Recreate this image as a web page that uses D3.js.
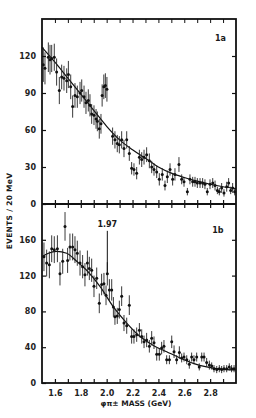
<!DOCTYPE html>
<html><head><meta charset="utf-8">
<script src="https://cdn.jsdelivr.net/npm/d3@7"></script>
<style>html,body{margin:0;padding:0;background:#fff}svg{display:block}text{font-family:"DejaVu Sans",sans-serif;fill:#1a1a1a}</style>
</head><body>
<script>
// ---- data ----
const xTickValues = [1.6,1.8,2.0,2.2,2.4,2.6,2.8];
const xTickLabels = ["1.6","1.8","2.0","2.2","2.4","2.6","2.8"];
const yTicksA = [0,30,60,90,120];
const yTicksB = [0,40,80,120,160];

const massA = [1.510,1.523,1.549,1.562,1.575,1.595,1.613,1.634,1.652,1.670,1.691,1.704,1.722,1.737,1.755,1.773,1.794,1.807,1.825,1.840,1.858,1.871,1.884,1.902,1.918,1.928,1.943,1.956,1.965,1.978,1.990,2.002,2.046,2.064,2.082,2.098,2.116,2.134,2.155,2.175,2.193,2.211,2.232,2.253,2.271,2.289,2.309,2.330,2.348,2.366,2.387,2.407,2.430,2.451,2.469,2.490,2.510,2.528,2.559,2.580,2.598,2.624,2.644,2.665,2.683,2.701,2.722,2.742,2.760,2.778,2.799,2.820,2.838,2.856,2.871,2.889,2.907,2.928,2.943,2.959,2.974,2.990];
const countA = [113,110,119,117,118,119,107,92,103,102,100,105,95,79,88,87,90,92,87,82,84,80,73,72,69,67,61,65,88,95,96,93,55,52,49,48,52,45,52,41,29,28,25,38,36,38,40,35,30,28,26,20,24,15,22,28,20,24,32,20,18,10,20,18,18,17,17,17,16,10,16,17,15,11,10,13,9,14,17,11,13,10];
const errA = [14,13,12,12,11,11,11,11,10,10,10,11,10,9,10,9,9,9,9,9,9,9,8,8,8,8,8,8,9,10,10,10,7,7,7,7,7,7,7,6,5,5,5,6,6,6,6,6,5,5,5,5,5,4,5,5,5,5,6,4,4,3,4,4,4,4,4,4,4,3,4,4,4,3,3,4,3,4,4,3,4,3];

const massB = [1.515,1.536,1.557,1.575,1.595,1.619,1.639,1.660,1.678,1.698,1.716,1.737,1.755,1.773,1.794,1.814,1.832,1.851,1.866,1.884,1.902,1.923,1.943,1.961,1.979,1.995,2.005,2.021,2.039,2.052,2.064,2.082,2.098,2.116,2.134,2.155,2.175,2.193,2.211,2.232,2.253,2.271,2.289,2.309,2.330,2.348,2.366,2.387,2.407,2.425,2.443,2.464,2.485,2.503,2.521,2.541,2.562,2.580,2.598,2.619,2.639,2.657,2.675,2.696,2.716,2.735,2.753,2.773,2.794,2.812,2.830,2.851,2.871,2.889,2.907,2.928,2.948,2.966,2.985];
const countB = [141,134,132,150,149,150,122,136,175,137,152,152,149,145,134,130,121,134,128,126,108,117,89,110,111,98,122,104,104,85,74,75,82,97,67,64,87,52,52,54,59,52,46,48,41,50,45,32,32,39,41,26,26,46,35,26,34,28,29,26,21,29,26,29,18,29,29,23,20,19,16,15,16,15,16,16,18,16,16];
const errB = [16,15,15,15,15,15,13,14,16,14,15,15,15,14,14,13,13,14,13,13,12,12,11,12,12,11,13,12,12,11,9,9,10,11,9,9,11,8,8,8,8,8,7,8,7,8,7,7,7,7,7,5,5,7,7,5,7,5,5,5,5,5,5,5,4,5,5,5,5,4,4,4,4,4,4,4,4,4,4];

const fitMassA = [1.5,1.6,1.7,1.8,1.9,2.0,2.1,2.2,2.3,2.4,2.5,2.6,2.7,2.8,2.9,3.0];
const fitA     = [127,115,102,89,76,63,52,44,37,30,25,21.5,18.5,16,14,12.5];
const fitMassB = [1.5,1.55,1.613,1.691,1.768,1.845,1.948,2.052,2.155,2.258,2.361,2.464,2.567,2.670,2.773,2.876,3.0];
const fitB     = [141,145,147,145,136,126,108,85,67,52,42,35,28,22,18,15.6,14.5];

const annotMass = 2.005, annotCount = 122, annotLabel = "1.97";

// ---- layout ----
const W = 256, H = 418;
const L = 42, R = 236, TA = 19, MID = 204, BB = 383;
const svg = d3.select("body").append("svg").attr("width", W).attr("height", H);
svg.append("rect").attr("width", W).attr("height", H).attr("fill", "#fff");

const x = d3.scaleLinear().domain([1.5, 3.0]).range([L, R]);
const yA = d3.scaleLinear().domain([0, 150]).range([MID, TA]);
const yB = d3.scaleLinear().domain([0, 200]).range([BB, MID]);
const minorX = d3.range(1.6, 2.95, 0.1);

function panel(y, yTicks, mass, count, err, fm, fv) {
  const g = svg.append("g");
  // fit curve
  const line = d3.line().x((d,i)=>x(fm[i])).y(d=>y(d)).curve(d3.curveMonotoneX);
  g.append("path").datum(fv).attr("d", line).attr("fill","none").attr("stroke","#111").attr("stroke-width",1.2);
  // error bars
  g.selectAll("line.err").data(mass).enter().append("line")
    .attr("x1", d=>x(d)).attr("x2", d=>x(d))
    .attr("y1", (d,i)=>y(Math.min(y.domain()[1], count[i]+err[i])))
    .attr("y2", (d,i)=>y(Math.max(0, count[i]-err[i])))
    .attr("stroke","#222").attr("stroke-width",0.9);
  g.selectAll("circle").data(mass).enter().append("circle")
    .attr("cx", d=>x(d)).attr("cy",(d,i)=>y(count[i])).attr("r",1.5).attr("fill","#111");
  // left axis
  const ax = d3.axisLeft(y).tickValues(yTicks).tickSize(-4).tickPadding(6).tickFormat(d=> d===0 ? "0" : d3.format("d")(d));
  const ga = svg.append("g").attr("transform",`translate(${L},0)`).call(ax);
  ga.select(".domain").remove();
  ga.selectAll("line").attr("stroke","#111").attr("stroke-width",1.2);
  ga.selectAll("text").attr("font-size",8).attr("font-weight","bold").style("fill","#222");
  // right axis ticks
  const ar = d3.axisRight(y).tickValues(yTicks.filter(v=>v>0)).tickSize(-4).tickFormat("");
  const gr = svg.append("g").attr("transform",`translate(${R},0)`).call(ar);
  gr.select(".domain").remove();
  gr.selectAll("line").attr("stroke","#111").attr("stroke-width",1.2);
}

panel(yA, yTicksA, massA, countA, errA, fitMassA, fitA);
panel(yB, yTicksB, massB, countB, errB, fitMassB, fitB);

// x tick marks (top inward, middle crossing, bottom inward)
const gt = svg.append("g").attr("transform",`translate(0,${TA})`).call(d3.axisBottom(x).tickValues(minorX).tickSize(4).tickFormat(""));
gt.select(".domain").remove(); gt.selectAll("line").attr("stroke","#111").attr("stroke-width",1);
const gm = svg.append("g").attr("transform",`translate(0,${MID-4})`).call(d3.axisBottom(x).tickValues(minorX).tickSize(8).tickFormat(""));
gm.select(".domain").remove(); gm.selectAll("line").attr("stroke","#111").attr("stroke-width",1.2);
const gb = svg.append("g").attr("transform",`translate(0,${BB})`).call(d3.axisTop(x).tickValues(minorX).tickSize(4).tickFormat(""));
gb.select(".domain").remove(); gb.selectAll("line").attr("stroke","#111").attr("stroke-width",1.2);
// x labels
const gl = svg.append("g").attr("transform",`translate(0,${BB})`).call(d3.axisBottom(x).tickValues(xTickValues).tickSize(0).tickPadding(7).tickFormat((d,i)=>xTickLabels[i]));
gl.select(".domain").remove();
gl.selectAll("text").attr("font-size",8).attr("font-weight","bold").style("fill","#222");

// frames
svg.append("rect").attr("x",L).attr("y",TA).attr("width",R-L).attr("height",BB-TA).attr("fill","none").attr("stroke","#111").attr("stroke-width",1.8);
svg.append("line").attr("x1",L).attr("x2",R).attr("y1",MID).attr("y2",MID).attr("stroke","#111").attr("stroke-width",2.2);

// panel labels
svg.append("text").attr("x",x(2.88)).attr("y",yA(132)).attr("text-anchor","middle").attr("font-size",8).attr("font-weight","bold").text("1a");
svg.append("text").attr("x",x(2.86)).attr("y",yB(168)).attr("text-anchor","middle").attr("font-size",8).attr("font-weight","bold").text("1b");

// annotation
svg.append("line").attr("x1",x(annotMass)).attr("x2",x(annotMass)).attr("y1",yB(170)).attr("y2",yB(annotCount))
  .attr("stroke","#111").attr("stroke-width",1);
svg.append("text").attr("x",x(annotMass)).attr("y",yB(174)).attr("text-anchor","middle").attr("font-size",8).attr("font-weight","bold").text(annotLabel);

// axis titles
svg.append("text").attr("transform",`translate(12,${(TA+BB)/2+10}) rotate(-90)`).attr("text-anchor","middle")
  .attr("font-size",7.5).attr("font-weight","bold").attr("letter-spacing",0.3).text("EVENTS / 20 MeV");
svg.append("text").attr("x",136).attr("y",406).attr("text-anchor","middle").attr("font-size",7.5).attr("font-weight","bold").text("φπ± MASS (GeV)");
</script>
</body></html>
